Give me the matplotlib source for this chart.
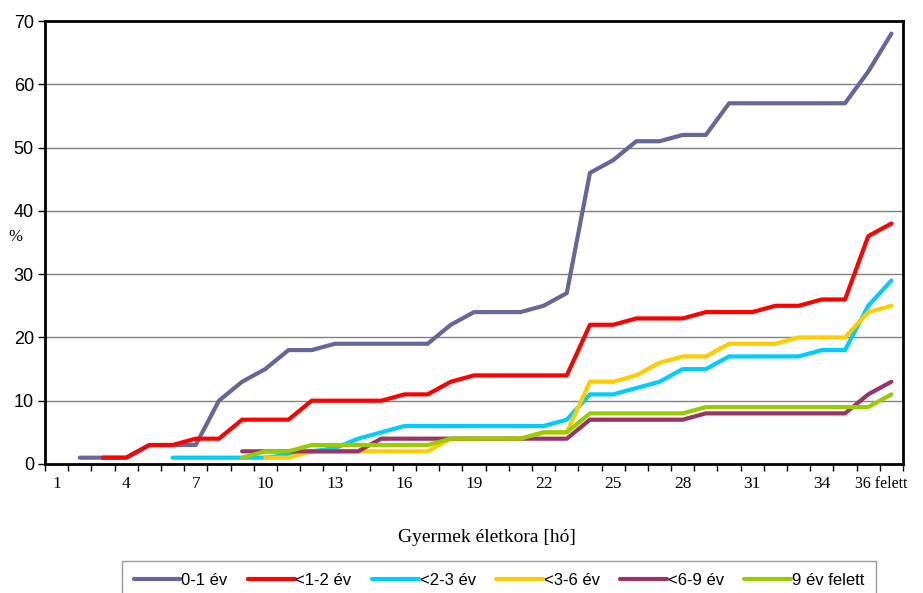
import numpy as np
import matplotlib
matplotlib.use("Agg")
import matplotlib.pyplot as plt
from matplotlib.transforms import ScaledTranslation

# categories: age in months, last one is "36 felett"
months = list(range(1, 37)) + [37]
tick_labels = [str(m) for m in range(1, 37)] + ["36 felett"]

nan = np.nan
# values in %, one per month (nan = no data yet)
ev_0_1 = [nan, 1, 1, 1, 3, 3, 3, 10, 13, 15, 18, 18, 19, 19, 19, 19, 19, 22, 24, 24,
          24, 25, 27, 46, 48, 51, 51, 52, 52, 57, 57, 57, 57, 57, 57, 62, 68]
ev_1_2 = [nan, nan, 1, 1, 3, 3, 4, 4, 7, 7, 7, 10, 10, 10, 10, 11, 11, 13, 14, 14,
          14, 14, 14, 22, 22, 23, 23, 23, 24, 24, 24, 25, 25, 26, 26, 36, 38]
ev_2_3 = [nan, nan, nan, nan, nan, 1, 1, 1, 1, 1, 1.5, 2, 2.5, 4, 5, 6, 6, 6, 6, 6,
          6, 6, 7, 11, 11, 12, 13, 15, 15, 17, 17, 17, 17, 18, 18, 25, 29]
ev_3_6 = [nan, nan, nan, nan, nan, nan, nan, nan, nan, 1, 1, 2, 2, 2, 2, 2, 2, 4, 4, 4,
          4, 5, 5, 13, 13, 14, 16, 17, 17, 19, 19, 19, 20, 20, 20, 24, 25]
ev_6_9 = [nan, nan, nan, nan, nan, nan, nan, nan, 2, 2, 2, 2, 2, 2, 4, 4, 4, 4, 4, 4,
          4, 4, 4, 7, 7, 7, 7, 7, 8, 8, 8, 8, 8, 8, 8, 11, 13]
ev_9_up = [nan, nan, nan, nan, nan, nan, nan, nan, 1, 2, 2, 3, 3, 3, 3, 3, 3, 4, 4, 4,
           4, 5, 5, 8, 8, 8, 8, 8, 9, 9, 9, 9, 9, 9, 9, 9, 11]

series = [
    ("0-1 év", ev_0_1, "#666699"),
    ("<1-2 év", ev_1_2, "#FF0000"),
    ("<2-3 év", ev_2_3, "#00CCFF"),
    ("<3-6 év", ev_3_6, "#FFCC00"),
    ("<6-9 év", ev_6_9, "#993366"),
    ("9 év felett", ev_9_up, "#99CC00"),
]

plt.rcParams['font.family'] = ['Liberation Sans', 'DejaVu Sans']

W, H = 923, 593
fig = plt.figure(figsize=(W / 100, H / 100), dpi=100)
ax = fig.add_axes([45 / W, 1 - 464 / H, (903 - 45) / W, (464 - 21) / H])

for name, vals, col in series:
    ax.plot(months, vals, color=col, lw=3, label=name,
            solid_capstyle='round', solid_joinstyle='round', zorder=3)

ax.set_xlim(0.5, 37.5)
ax.set_ylim(0, 70)
ax.set_yticks(range(0, 71, 10))
ax.yaxis.grid(True, color='#808080', lw=1)
ax.set_axisbelow(True)

# tick marks between categories, labels every third month (serif, like the original)
ax.set_xticks(np.arange(0.5, 38, 1.0))
ax.set_xticklabels([])
lab_pos = months[::3]
lab_txt = tick_labels[::3]
ax.set_xticks(lab_pos, minor=True)
ax.set_xticklabels(lab_txt, minor=True, family='Liberation Serif')
ax.tick_params(axis='x', which='minor', length=0, pad=9, labelsize=12.5)
ax.tick_params(axis='x', which='major', length=5, width=1, direction='out')
ax.tick_params(axis='y', length=5, width=1, labelsize=13, pad=3)
# last label squeezed a bit to the left, as in the original
last = ax.xaxis.get_minorticklabels()[-1]
last.set_fontsize(11.5)
last.set_transform(last.get_transform() + ScaledTranslation(-0.10, 0, fig.dpi_scale_trans))
for s in ax.spines.values():
    s.set_linewidth(2)
    s.set_color('black')
    s.set_zorder(4)

fig.text(15 / W, 1 - 237 / H, "%", family='Liberation Serif', fontsize=12,
         ha='center', va='center')
fig.text(487 / W, 1 - 537 / H, "Gyermek életkora [hó]", family='Liberation Serif',
         fontsize=14, ha='center', va='center')

leg = fig.legend(loc='upper left', bbox_to_anchor=(122 / W, 1 - 561 / H, (876 - 122) / W, 0.0),
                 mode='expand', ncol=6, frameon=True, fancybox=False, fontsize=12,
                 handlelength=2.8, handletextpad=0.05, borderpad=0.7, borderaxespad=0,
                 columnspacing=1.2)
leg.get_frame().set_edgecolor('#808080')
leg.get_frame().set_linewidth(1)

fig.savefig("out.png", dpi=100)
